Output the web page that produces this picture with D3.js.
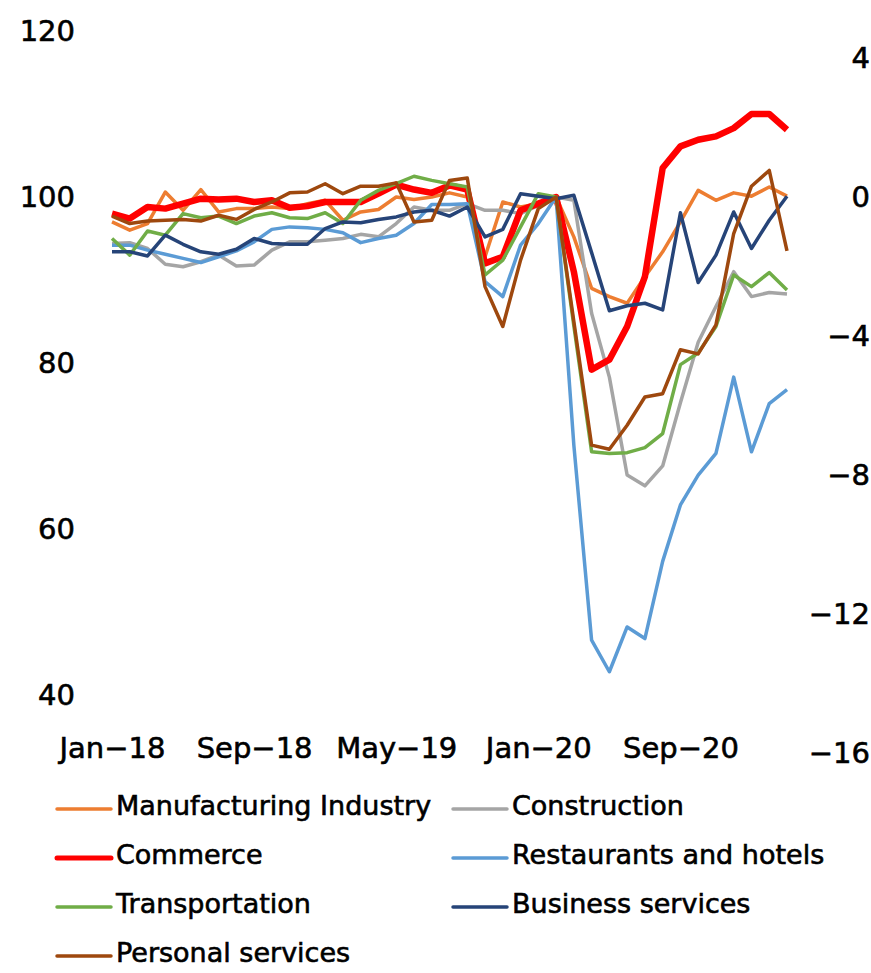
<!DOCTYPE html>
<html>
<head>
<meta charset="utf-8">
<script src="https://cdn.jsdelivr.net/npm/d3@7"></script>
<style>
  body { margin: 0; background: #fff; }
</style>
</head>
<body>
<div id="vis"></div>
<script>
/* geometry */
let width = 871;
let height = 973;

/* data: monthly index, Feb-20 = 100 */
let months = [
  "Jan-18","Feb-18","Mar-18","Apr-18","May-18","Jun-18","Jul-18","Aug-18","Sep-18","Oct-18","Nov-18","Dec-18",
  "Jan-19","Feb-19","Mar-19","Apr-19","May-19","Jun-19","Jul-19","Aug-19","Sep-19","Oct-19","Nov-19","Dec-19",
  "Jan-20","Feb-20","Mar-20","Apr-20","May-20","Jun-20","Jul-20","Aug-20","Sep-20","Oct-20","Nov-20","Dec-20",
  "Jan-21","Feb-21","Mar-21"];
let tickMonths = ["Jan-18", "Sep-18", "May-19", "Jan-20", "Sep-20"];
let leftTicks = [40, 60, 80, 100, 120];
let rightTicks = [-16, -12, -8, -4, 0, 4];

let manufacturing = [97.0, 96.0, 96.8, 100.6, 98.4, 100.9, 98.2, 98.6, 98.6, 98.8, 98.6, 99.2,
  99.6, 97.2, 98.2, 98.5, 100.0, 99.7, 100.0, 100.5, 100.0, 92.8, 99.4, 98.8,
  99.2, 100.0, 95.2, 89.0, 88.0, 87.2, 90.4, 93.4, 97.0, 100.8, 99.6, 100.5,
  100.1, 101.2, 100.1];
let construction = [94.4, 94.5, 93.8, 91.9, 91.6, 92.2, 93.0, 91.7, 91.8, 93.6, 94.6, 94.6,
  94.8, 95.0, 95.5, 95.2, 96.8, 98.8, 98.4, 98.4, 99.2, 98.4, 98.4, 98.0,
  99.0, 100.0, 99.6, 86.0, 78.3, 66.5, 65.2, 67.6, 75.2, 82.5, 86.8, 91.0,
  88.0, 88.5, 88.3];
let commerce = [98.0, 97.4, 98.8, 98.6, 99.2, 99.8, 99.7, 99.8, 99.4, 99.6, 98.7, 98.9,
  99.4, 99.4, 99.4, 100.4, 101.5, 100.9, 100.5, 101.4, 100.9, 92.0, 92.8, 98.4,
  99.2, 100.0, 91.0, 79.2, 80.4, 84.4, 90.4, 103.5, 106.1, 106.9, 107.3, 108.3,
  110.0, 110.0, 108.1];
let restaurants = [94.2, 94.2, 93.6, 93.1, 92.6, 92.1, 92.8, 93.5, 94.6, 96.1, 96.4, 96.3,
  96.1, 95.7, 94.5, 95.0, 95.4, 96.8, 99.1, 99.1, 99.2, 89.8, 88.0, 94.2,
  96.8, 100.0, 70.1, 46.6, 42.8, 48.2, 46.8, 56.1, 62.9, 66.5, 69.1, 78.3,
  69.3, 75.1, 76.8];
let transportation = [95.0, 93.0, 95.9, 95.4, 98.0, 97.5, 97.7, 96.8, 97.7, 98.1, 97.5, 97.4,
  98.1, 96.8, 99.6, 100.8, 101.6, 102.5, 102.0, 101.6, 101.2, 90.6, 92.4, 96.4,
  100.4, 100.0, 84.5, 69.3, 69.1, 69.2, 69.8, 71.5, 79.8, 81.2, 84.4, 90.6,
  89.2, 90.9, 88.8];
let business = [93.4, 93.4, 92.9, 95.4, 94.3, 93.4, 93.1, 93.7, 95.0, 94.4, 94.3, 94.3,
  96.2, 97.0, 96.9, 97.3, 97.6, 98.2, 98.4, 97.7, 98.8, 95.2, 96.1, 100.4,
  100.1, 99.8, 100.2, 93.3, 86.3, 86.9, 87.2, 86.4, 98.1, 89.7, 93.0, 98.2,
  93.8, 97.2, 100.1];
let personal = [97.7, 96.8, 97.1, 97.2, 97.3, 97.1, 97.8, 97.3, 98.5, 99.4, 100.5, 100.6,
  101.6, 100.4, 101.3, 101.3, 101.7, 97.0, 97.2, 102.0, 102.3, 89.2, 84.4, 92.4,
  98.6, 100.0, 85.0, 70.1, 69.6, 72.5, 75.9, 76.3, 81.6, 81.1, 84.6, 95.6,
  101.3, 103.2, 93.5];

let seriesNames = ["Manufacturing Industry", "Construction", "Commerce",
  "Restaurants and hotels", "Transportation", "Business services", "Personal services"];
let seriesValues = [manufacturing, construction, commerce, restaurants,
  transportation, business, personal];
let seriesColors = ["#ed7d31", "#a5a5a5", "#ff0000", "#5b9bd5", "#70ad47", "#264478", "#9e480e"];
let seriesWidths = [3.5, 3.5, 6.5, 3.5, 3.5, 3.5, 3.5];

/* scales */
let x = d3.scalePoint().domain(months).range([112, 787]);
let yLeft = d3.scaleLinear().domain([40, 120]).range([695, 31]);
let yRight = d3.scaleLinear().domain([-16, 4]).range([753, 58]);

let font = "'DejaVu Sans', Verdana, sans-serif";
let minus = s => s.replace("-", "\u2212");

let svg = d3.select("#vis").append("svg")
  .attr("width", width)
  .attr("height", height)
  .style("background-color", "#fff");

/* a thin outline makes DejaVu look as heavy as the original face */
function heavyText (sel) {
  sel.attr("fill", "#000")
    .attr("stroke", "#000")
    .attr("stroke-width", 0.6)
    .attr("font-family", font);
}

/* axes: labels only, no lines or ticks */
function styleAxis (g) {
  g.select(".domain").remove();
  g.selectAll("text")
    .call(heavyText)
    .attr("font-size", 29);
}

svg.append("g")
  .attr("transform", "translate(82,0)")
  .call(d3.axisLeft(yLeft).tickValues(leftTicks).tickSize(0).tickPadding(7))
  .call(styleAxis);

svg.append("g")
  .attr("transform", "translate(877,0)")
  .call(d3.axisLeft(yRight).tickValues(rightTicks).tickSize(0).tickPadding(7)
    .tickFormat(d => minus(String(d))))
  .call(styleAxis);

svg.append("g")
  .attr("transform", "translate(0,737)")
  .call(d3.axisBottom(x).tickValues(tickMonths).tickSize(0).tickPadding(0)
    .tickFormat(minus))
  .call(styleAxis);

/* lines */
let line = d3.line()
  .x((d, i) => x(months[i]))
  .y(d => yLeft(d));

svg.append("g").selectAll("path")
  .data(seriesValues)
  .join("path")
    .attr("fill", "none")
    .attr("stroke", (d, i) => seriesColors[i])
    .attr("stroke-width", (d, i) => seriesWidths[i])
    .attr("stroke-linejoin", "round")
    .attr("d", line);

/* legend, two columns, row-major order */
let legend = svg.append("g");
seriesNames.forEach((name, i) => {
  let col = i % 2;
  let row = Math.floor(i / 2);
  let lx = col === 0 ? 57 : 453;
  let ly = 809 + row * 49;
  let item = legend.append("g")
    .attr("transform", "translate(" + lx + "," + ly + ")");
  item.append("line")
    .attr("x1", 0)
    .attr("x2", 54)
    .attr("stroke", seriesColors[i])
    .attr("stroke-width", i === 2 ? 5 : 3.5)
    .attr("stroke-linecap", "round");
  item.append("text")
    .attr("x", 59)
    .attr("y", 6)
    .attr("font-size", 27)
    .call(heavyText)
    .text(name);
});
</script>
</body>
</html>
